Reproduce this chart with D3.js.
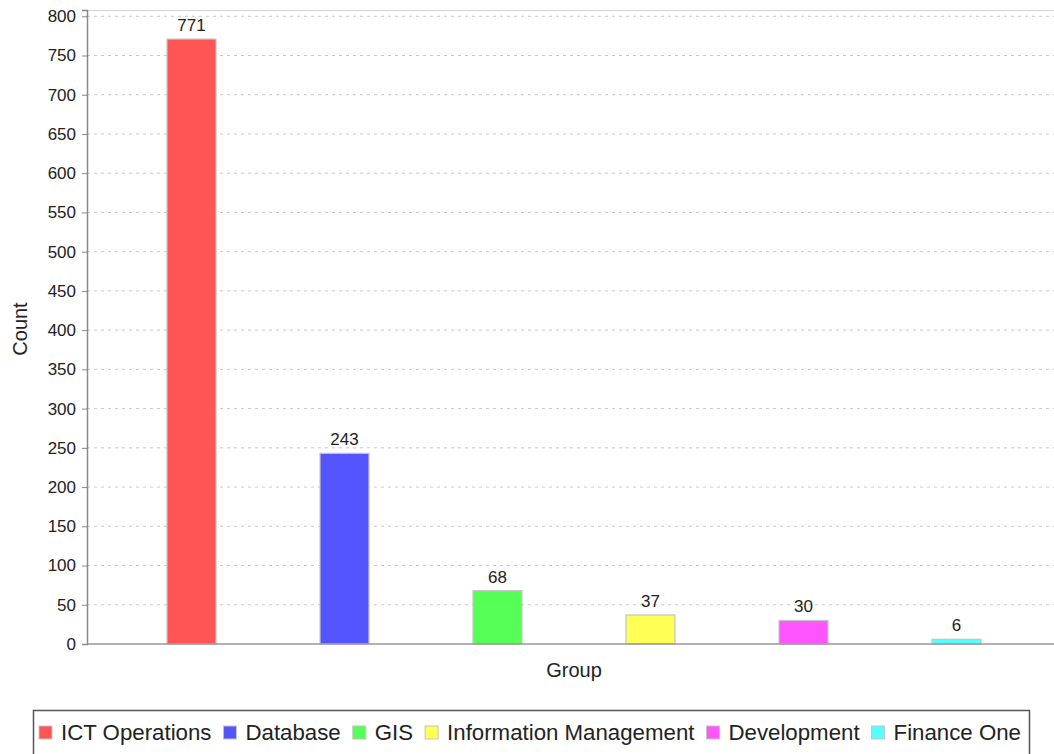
<!DOCTYPE html>
<html>
<head>
<meta charset="utf-8">
<script src="https://cdn.jsdelivr.net/npm/d3@7"></script>
<style>
  body { margin: 0; background: #fff; }
  text { font-family: "Liberation Sans", Arial, sans-serif; fill: #222; }
</style>
</head>
<body>
<div id="chart"></div>
<script>
// data
var groups = ["ICT Operations", "Database", "GIS", "Information Management", "Development", "Finance One"];
var counts = [771, 243, 68, 37, 30, 6];
var colors = ["#ff5555", "#5555ff", "#55ff55", "#ffff55", "#ff55ff", "#55ffff"];
var yTicks = [0, 50, 100, 150, 200, 250, 300, 350, 400, 450, 500, 550, 600, 650, 700, 750, 800];

var W = 1054, H = 754;
var plot = {left: 87, right: 1061, top: 10, bottom: 644};

var svg = d3.select("#chart").append("svg")
    .attr("width", W)
    .attr("height", H);

// scales
var x = d3.scaleBand()
    .domain(groups)
    .range([115, 1033])
    .paddingInner(0.68)
    .paddingOuter(0.34);
var y = d3.scaleLinear()
    .domain([0, 808])
    .range([plot.bottom, plot.top]);

// grid lines
svg.append("g")
    .selectAll("line")
    .data(yTicks.slice(1))
    .enter().append("line")
    .attr("x1", plot.left).attr("x2", W)
    .attr("y1", function(d) { return y(d); })
    .attr("y2", function(d) { return y(d); })
    .attr("stroke", "#c8c8c8")
    .attr("stroke-dasharray", "3,4");

// top border of plot
svg.append("line")
    .attr("x1", plot.left).attr("x2", W)
    .attr("y1", plot.top + 0.5).attr("y2", plot.top + 0.5)
    .attr("stroke", "#d8d8d8");

// bars
svg.selectAll(".bar")
    .data(groups)
    .enter().append("rect")
    .attr("class", "bar")
    .attr("x", function(d) { return x(d); })
    .attr("width", x.bandwidth())
    .attr("y", function(d, i) { return y(counts[i]); })
    .attr("height", function(d, i) { return plot.bottom - y(counts[i]); })
    .attr("fill", function(d, i) { return colors[i]; })
    .attr("stroke", "#c4c4c4")
    .attr("stroke-width", 1.2);

// value labels
svg.selectAll(".val")
    .data(groups)
    .enter().append("text")
    .attr("class", "val")
    .attr("x", function(d) { return x(d) + x.bandwidth() / 2; })
    .attr("y", function(d, i) { return y(counts[i]) - 8; })
    .attr("text-anchor", "middle")
    .style("font-size", "17px")
    .text(function(d, i) { return counts[i]; });

// y axis
var yAxis = svg.append("g")
    .attr("transform", "translate(" + plot.left + ",0)")
    .call(d3.axisLeft(y).tickValues(yTicks).tickSize(5).tickPadding(6));
yAxis.select(".domain").attr("stroke", "#888").attr("stroke-width", 1.5);
yAxis.selectAll(".tick line").attr("stroke", "#888");
yAxis.selectAll(".tick text")
    .style("font-size", "17px")
    .style("font-family", "'Liberation Sans', Arial, sans-serif")
    .attr("fill", "#222");

// x axis line
svg.append("line")
    .attr("x1", plot.left).attr("x2", W)
    .attr("y1", plot.bottom).attr("y2", plot.bottom)
    .attr("stroke", "#999")
    .attr("stroke-width", 1.5);

// axis titles
svg.append("text")
    .attr("transform", "translate(27,329) rotate(-90)")
    .attr("text-anchor", "middle")
    .style("font-size", "20px")
    .text("Count");
svg.append("text")
    .attr("x", 574)
    .attr("y", 677)
    .attr("text-anchor", "middle")
    .style("font-size", "20px")
    .text("Group");

// legend
var legend = svg.append("g");
legend.append("rect")
    .attr("x", 33.5).attr("y", 710.5)
    .attr("width", 996).attr("height", 60)
    .attr("fill", "#fff")
    .attr("stroke", "#555")
    .attr("stroke-width", 1.5);

var sw = 13, gapIn = 9, gapOut = 12, startX = 39, endX = 1021;
var probe = legend.append("text").style("font-size", "20px");
var widths = groups.map(function(g) { probe.text(g); return probe.node().getComputedTextLength(); });
probe.remove();
var fixed = groups.length * (sw + gapIn) + (groups.length - 1) * gapOut;
var k = (endX - startX - fixed) / d3.sum(widths);
var fs = 20 * k;

var cx = startX;
groups.forEach(function(g, i) {
    legend.append("rect")
        .attr("x", cx).attr("y", 726)
        .attr("width", sw).attr("height", sw)
        .attr("fill", colors[i])
        .attr("stroke", "#c4c4c4");
    legend.append("text")
        .attr("x", cx + sw + gapIn)
        .attr("y", 740)
        .style("font-size", fs + "px")
        .text(g);
    cx += sw + gapIn + widths[i] * k + gapOut;
});
</script>
</body>
</html>
